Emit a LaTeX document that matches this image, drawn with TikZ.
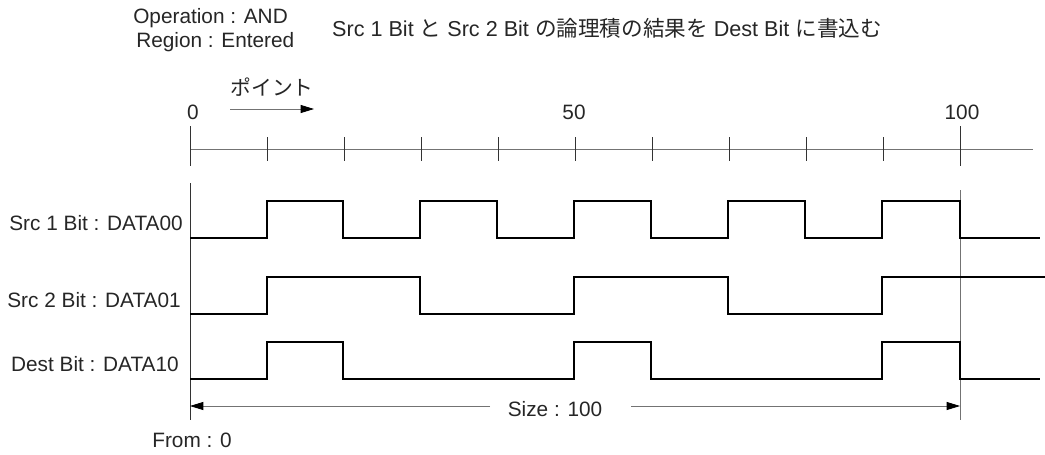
\documentclass[tikz,border=0pt]{standalone}
\usepackage{fontspec}
\setmainfont{Liberation Sans}
\newfontfamily\jpfont{Noto Sans CJK JP}
\usetikzlibrary{arrows.meta}

\begin{document}
\begin{tikzpicture}[x=0.75pt,y=-0.75pt,
  sig/.style={line width=1.5pt, line join=miter},
  axisline/.style={line width=0.6pt, black!55},
  vline/.style={line width=0.6pt, black!80},
  lbl/.style={font=\fontsize{15.6}{18}\selectfont, inner sep=0pt, text=black!85},
  arrowtip/.style={line width=0.6pt, black!55, -{Triangle[length=10pt,width=6pt,color=black]}}]
\useasboundingbox (0,0) rectangle (1045,454);

%% encabezado %%%%%%%%%%%%%%%%%%%%%%%%%%%%%%%
\node[lbl, anchor=west] (oper) at (133,18) {Operation : AND};
\node[lbl, anchor=west] (region) at (136,42) {Region : Entered};
\node[lbl, font=\fontsize{16.2}{18}\selectfont] (title) at (607,28) {Src 1 Bit {\jpfont と} Src 2 Bit {\jpfont の論理積の結果を} Dest Bit {\jpfont に書込む}};

%% eje de puntos %%%%%%%%%%%%%%%%%%%%%%%%%%%%%
\node[lbl] (n0) at (193,112) {0};
\node[lbl] (n50) at (574,112) {50};
\node[lbl] (n100) at (962,112) {100};
\node[lbl, font=\fontsize{15.6}{18}\selectfont\jpfont] (point) at (272,87) {ポイント};
\coordinate (pA) at (230,109);
\coordinate (pB) at (314,109);
\draw[arrowtip] (pA) -- (pB);

\draw[axisline] (190,149) -- (1033,149);
\draw[vline] (190,126) -- (190,166);
\draw[vline] (960,126) -- (960,166);
\foreach \iT in {1,...,9}{
\draw[vline] (190+77*\iT,137) -- (190+77*\iT,161);
}

%% senales %%%%%%%%%%%%%%%%%%%%%%%%%%%%%%%%%%%%
\draw[vline] (190,183) -- (190,420);
\draw[axisline] (960,190) -- (960,420);

\node[lbl, anchor=east] (src1) at (183,223) {Src 1 Bit : DATA00};
\node[lbl, anchor=east] (src2) at (181,300) {Src 2 Bit : DATA01};
\node[lbl, anchor=east] (dest) at (179,364) {Dest Bit : DATA10};

% Src 1 (y alto=201, bajo=238)
\draw[sig] (190,238) -- (267,238) -- (267,201) -- (343,201) -- (343,238)
  -- (420,238) -- (420,201) -- (497,201) -- (497,238) -- (574,238) -- (574,201)
  -- (651,201) -- (651,238) -- (728,238) -- (728,201) -- (805,201) -- (805,238)
  -- (882,238) -- (882,201) -- (960,201) -- (960,238) -- (1040,238);
% Src 2 (y alto=277, bajo=314)
\draw[sig] (190,314) -- (267,314) -- (267,277) -- (420,277) -- (420,314)
  -- (574,314) -- (574,277) -- (728,277) -- (728,314) -- (882,314) -- (882,277)
  -- (1045,277);
% Dest (y alto=342, bajo=379)
\draw[sig] (190,379) -- (267,379) -- (267,342) -- (343,342) -- (343,379)
  -- (574,379) -- (574,342) -- (651,342) -- (651,379) -- (882,379) -- (882,342)
  -- (960,342) -- (960,379) -- (1040,379);

%% tamano %%%%%%%%%%%%%%%%%%%%%%%%%%%%%%%%%%%%%
\node[lbl] (size) at (555,409) {Size : 100};
\coordinate (from) at (190,406);
\coordinate (to) at (960,406);
\coordinate (sizeL) at (490,406);
\coordinate (sizeR) at (631,406);
\draw[arrowtip] (sizeL) -- (from);
\draw[arrowtip] (sizeR) -- (to);
\node[lbl] (fromlbl) at (192,440) {From : 0};
\end{tikzpicture}
\end{document}
